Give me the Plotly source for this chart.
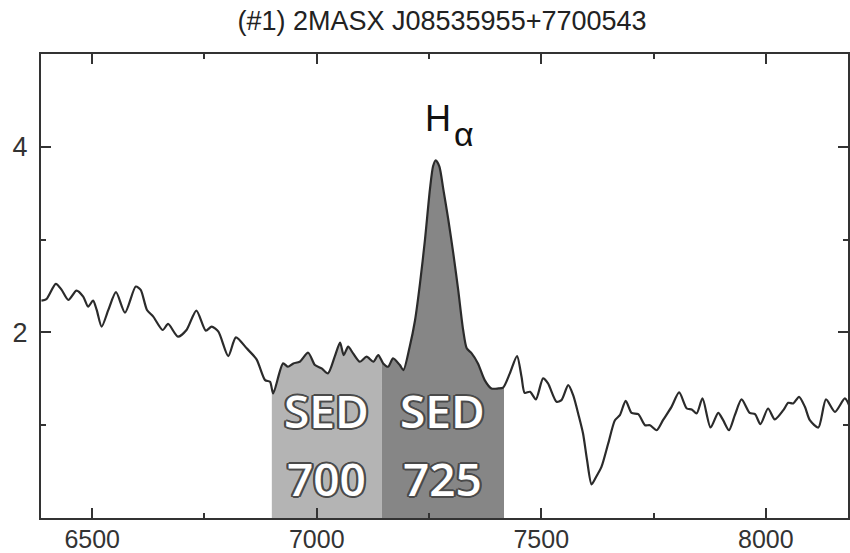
import numpy as np
import plotly.graph_objects as go

# Spectrum (wavelength in Angstrom, relative flux)
wavelength = [6387, 6398, 6419, 6432, 6447, 6465, 6480, 6491, 6502, 6510, 6521, 6536, 6553, 6573, 6597,
              6608, 6622, 6636, 6657, 6669, 6691, 6710, 6732, 6753, 6766, 6781, 6803, 6820, 6844, 6866,
              6885, 6896, 6903, 6925, 6936, 6948, 6962, 6981, 6996, 7011, 7025, 7040, 7052, 7060, 7070,
              7081, 7096, 7111, 7126, 7137, 7148, 7159, 7170, 7185, 7193, 7207, 7219, 7230, 7241, 7252,
              7259, 7265, 7273, 7282, 7293, 7304, 7315, 7326, 7334, 7345, 7359, 7374, 7389, 7404, 7415,
              7430, 7446, 7456, 7463, 7475, 7488, 7504, 7515, 7534, 7545, 7560, 7571, 7584, 7593, 7602,
              7612, 7622, 7634, 7649, 7664, 7675, 7688, 7701, 7716, 7731, 7742, 7757, 7771, 7790, 7807,
              7824, 7835, 7846, 7859, 7877, 7894, 7905, 7918, 7931, 7946, 7964, 7976, 7988, 8005, 8020,
              8039, 8050, 8061, 8074, 8087, 8098, 8117, 8134, 8154, 8176, 8187]
flux = [2.343, 2.358, 2.523, 2.458, 2.350, 2.451, 2.386, 2.278, 2.343, 2.242, 2.062, 2.242, 2.433, 2.213, 2.494,
        2.458, 2.242, 2.170, 2.026, 2.091, 1.954, 2.026, 2.235, 2.019, 2.062, 2.008, 1.745, 1.947, 1.828, 1.710,
        1.486, 1.468, 1.342, 1.666, 1.630, 1.666, 1.684, 1.781, 1.648, 1.612, 1.558, 1.738, 1.889, 1.756, 1.846,
        1.774, 1.684, 1.738, 1.684, 1.756, 1.666, 1.630, 1.720, 1.648, 1.594, 1.846, 2.134, 2.530, 2.998, 3.538,
        3.790, 3.855, 3.790, 3.538, 3.214, 2.854, 2.458, 2.026, 1.828, 1.774, 1.666, 1.486, 1.396, 1.396, 1.405,
        1.558, 1.745, 1.522, 1.349, 1.360, 1.278, 1.504, 1.450, 1.252, 1.270, 1.432, 1.324, 1.090, 0.910, 0.622,
        0.363, 0.442, 0.550, 0.802, 1.054, 1.108, 1.263, 1.133, 1.119, 1.000, 1.000, 0.946, 1.054, 1.198, 1.353,
        1.180, 1.170, 1.126, 1.288, 0.975, 1.133, 1.054, 0.946, 1.108, 1.278, 1.133, 1.119, 1.011, 1.180, 1.062,
        1.162, 1.241, 1.234, 1.306, 1.198, 1.054, 0.975, 1.278, 1.144, 1.288, 1.198]

# Filter bands
band_top = ["SED", "SED"]
band_num = ["700", "725"]
band_lo = [6900, 7145]
band_hi = [7145, 7417]
band_colors = ["#b4b4b4", "#868686"]

title_text = "(#1) 2MASX J08535955+7700543"
x_range = [6386, 8183]
y_range = [0, 5]
x_ticks = [6500, 7000, 7500, 8000]
x_minor = [6750, 7250, 7750]
y_ticks = [2, 4]
y_minor = [1, 3]
h_pos = (7269, 4.30)      # "H" of H-alpha
alpha_pos = (7328, 4.14)  # alpha
sed_y = [1.16, 0.43]      # label rows

wl = np.array(wavelength, dtype=float)
fl = np.array(flux, dtype=float)

fig = go.Figure()

for lo, hi, col in zip(band_lo, band_hi, band_colors):
    inside = (wl > lo) & (wl < hi)
    bx = np.concatenate([[lo], wl[inside], [hi]])
    by = np.concatenate([[np.interp(lo, wl, fl)], fl[inside], [np.interp(hi, wl, fl)]])
    fig.add_trace(go.Scatter(x=bx, y=by, mode="lines", line=dict(width=0, color=col, shape="spline", smoothing=0.7),
                             fill="tozeroy", fillcolor=col, hoverinfo="skip", showlegend=False))

fig.add_trace(go.Scatter(x=wl, y=fl, mode="lines",
                         line=dict(color="#2b2b2b", width=2.2, shape="spline", smoothing=0.7),
                         showlegend=False))

outline = "#4a4a4a"
shadow = ", ".join(f"{dx}px {dy}px 0px {outline}" for dx, dy in
                   [(-2, 0), (2, 0), (0, -2), (0, 2), (-1, -1), (1, 1), (-1, 1), (1, -1),
                    (-2, -1), (2, 1), (-2, 1), (2, -1)])
for top, num, lo, hi in zip(band_top, band_num, band_lo, band_hi):
    for txt, yy in zip([top, num], sed_y):
        fig.add_annotation(x=(lo + hi) / 2, y=yy, text=txt, showarrow=False,
                           font=dict(family="Open Sans", size=46, color="white", shadow=shadow, weight=600),
                           xanchor="center", yanchor="middle")

fig.add_annotation(x=h_pos[0], y=h_pos[1], text="H", showarrow=False,
                   font=dict(family="Liberation Sans", size=36, color="#111"), xanchor="center", yanchor="middle")
fig.add_annotation(x=alpha_pos[0], y=alpha_pos[1], text="α", showarrow=False,
                   font=dict(family="Liberation Sans", size=34, color="#111"), xanchor="center", yanchor="middle")

axis_common = dict(showline=True, linecolor="#333333", linewidth=2, mirror="ticks",
                   ticks="inside", ticklen=10, tickwidth=2, tickcolor="#333333",
                   showgrid=False, zeroline=False, automargin=False)

fig.update_xaxes(range=x_range, tickmode="array", tickvals=x_ticks, ticklabelstandoff=-2,
                 tickfont=dict(family="Liberation Sans", size=25, color="#333333"),
                 minor=dict(tickmode="array", tickvals=x_minor, ticks="inside", ticklen=5,
                            tickwidth=2, tickcolor="#333333"),
                 **axis_common)
fig.update_yaxes(range=y_range, tickmode="array", tickvals=y_ticks, ticklabelstandoff=6,
                 tickfont=dict(family="Liberation Sans", size=27, color="#333333"),
                 minor=dict(tickmode="array", tickvals=y_minor, ticks="inside", ticklen=5,
                            tickwidth=2, tickcolor="#333333"),
                 **axis_common)

fig.update_layout(
    width=850, height=553,
    margin=dict(l=41, r=2, t=54, b=35),
    paper_bgcolor="white", plot_bgcolor="white",
    title=dict(text=title_text, x=0.52, xanchor="center", y=0.962, yanchor="middle", yref="container",
               font=dict(family="Liberation Sans", size=27, color="#222222")),
)

fig.write_html("out.html")
